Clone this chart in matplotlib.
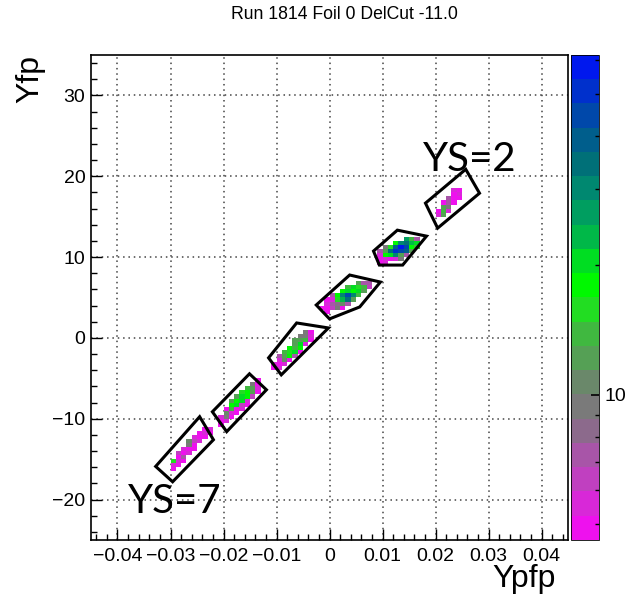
import numpy as np
import matplotlib
matplotlib.use("Agg")
import matplotlib.pyplot as plt
from matplotlib.colors import ListedColormap, LogNorm
from matplotlib.patches import Polygon
from matplotlib.ticker import MultipleLocator, FuncFormatter, NullFormatter, FixedLocator

plt.rcParams['font.family'] = ['Liberation Sans', 'DejaVu Sans']

# Histogram cells per sieve hole: (Ypfp bin centre, Yfp bin centre, counts)
cells_ys7 = [
    (-0.0295, -16.25, 5), (-0.0295, -15.75, 5.6), (-0.0295, -15.25, 15.7),
    (-0.0285, -15.75, 5), (-0.0285, -15.25, 5.6), (-0.0285, -14.75, 5), (-0.0285, -14.25, 6.3),
    (-0.0275, -15.25, 5), (-0.0275, -14.75, 7.2), (-0.0275, -14.25, 5), (-0.0275, -13.75, 5.6),
    (-0.0265, -14.25, 5.6), (-0.0265, -13.75, 5), (-0.0265, -13.25, 9.4), (-0.0265, -12.75, 10.7),
    (-0.0255, -13.75, 5), (-0.0255, -13.25, 5), (-0.0255, -12.75, 6.3), (-0.0255, -12.25, 5.6),
    (-0.0245, -12.75, 5.6), (-0.0245, -12.25, 5), (-0.0245, -11.75, 5),
    (-0.0235, -12.25, 5), (-0.0235, -11.75, 5.6), (-0.0235, -11.25, 5),
    (-0.0225, -11.75, 5), (-0.0225, -11.25, 5.6),
]
cells_ys6 = [
    (-0.0205, -10.75, 5), (-0.0205, -10.25, 5), (-0.0205, -9.75, 5.6),
    (-0.0195, -10.25, 5.6), (-0.0195, -9.75, 9.4), (-0.0195, -9.25, 10.7), (-0.0195, -8.75, 5),
    (-0.0185, -9.75, 5), (-0.0185, -9.25, 5.6), (-0.0185, -8.75, 13.8), (-0.0185, -8.25, 17.9),
    (-0.0185, -7.75, 12.2),
    (-0.0175, -9.25, 5), (-0.0175, -8.75, 5), (-0.0175, -8.25, 20.4), (-0.0175, -7.75, 17.9),
    (-0.0175, -7.25, 12.2),
    (-0.0165, -8.75, 5.6), (-0.0165, -8.25, 6.3), (-0.0165, -7.75, 20.4), (-0.0165, -7.25, 20.4),
    (-0.0165, -6.75, 15.7),
    (-0.0155, -8.25, 5), (-0.0155, -7.75, 5.6), (-0.0155, -7.25, 17.9), (-0.0155, -6.75, 17.9),
    (-0.0155, -6.25, 13.8),
    (-0.0145, -7.25, 6.3), (-0.0145, -6.75, 12.2), (-0.0145, -6.25, 12.2), (-0.0145, -5.75, 9.4),
    (-0.0135, -6.75, 5), (-0.0135, -6.25, 5.6), (-0.0135, -5.75, 5), (-0.0135, -5.25, 5),
]
cells_ys5 = [
    (-0.0105, -3.75, 5), (-0.0105, -3.25, 5.6),
    (-0.0095, -3.75, 5.6), (-0.0095, -3.25, 5), (-0.0095, -2.75, 5.6), (-0.0095, -2.25, 7.2),
    (-0.0085, -3.25, 5.6), (-0.0085, -2.75, 10.7), (-0.0085, -2.25, 12.2), (-0.0085, -1.75, 13.8),
    (-0.0075, -2.75, 5), (-0.0075, -2.25, 17.9), (-0.0075, -1.75, 15.7), (-0.0075, -1.25, 17.9),
    (-0.0065, -2.25, 7.2), (-0.0065, -1.75, 20.4), (-0.0065, -1.25, 13.8), (-0.0065, -0.75, 12.2),
    (-0.0065, -0.25, 12.2),
    (-0.0055, -1.75, 5), (-0.0055, -1.25, 17.9), (-0.0055, -0.75, 20.4), (-0.0055, -0.25, 12.2),
    (-0.0055, 0.25, 9.4),
    (-0.0045, -0.75, 5.6), (-0.0045, -0.25, 13.8), (-0.0045, 0.25, 9.4), (-0.0045, 0.75, 9.4),
    (-0.0035, -0.25, 5), (-0.0035, 0.25, 5.6), (-0.0035, 0.75, 5),
]
cells_ys4 = [
    (-0.0015, 3.75, 5),
    (-0.0005, 3.25, 5), (-0.0005, 3.75, 5), (-0.0005, 4.25, 5.6), (-0.0005, 4.75, 5),
    (0.0005, 3.75, 6.3), (0.0005, 4.25, 7.2), (0.0005, 4.75, 5.6), (0.0005, 5.25, 7.2),
    (0.0015, 3.75, 9.4), (0.0015, 4.25, 8.2), (0.0015, 4.75, 15.7), (0.0015, 5.25, 17.9),
    (0.0025, 3.75, 5), (0.0025, 4.25, 10.7), (0.0025, 4.75, 23.2), (0.0025, 5.25, 30.1),
    (0.0025, 5.75, 17.9),
    (0.0035, 4.25, 7.2), (0.0035, 4.75, 34.3), (0.0035, 5.25, 44.5), (0.0035, 5.75, 20.4),
    (0.0035, 6.25, 13.8),
    (0.0045, 4.75, 12.2), (0.0045, 5.25, 30.1), (0.0045, 5.75, 17.9), (0.0045, 6.25, 20.4),
    (0.0055, 5.25, 13.8), (0.0055, 5.75, 20.4), (0.0055, 6.25, 15.7), (0.0055, 6.75, 12.2),
    (0.0065, 5.75, 12.2), (0.0065, 6.25, 13.8), (0.0065, 6.75, 7.2),
    (0.0075, 6.25, 6.3), (0.0075, 6.75, 7.2),
]
cells_ys3 = [
    (0.0095, 9.25, 5), (0.0095, 9.75, 5), (0.0095, 10.25, 5.6), (0.0095, 10.75, 7.2),
    (0.0105, 9.25, 5.6), (0.0105, 9.75, 5.6), (0.0105, 10.25, 17.9), (0.0105, 10.75, 12.2),
    (0.0105, 11.25, 9.4),
    (0.0115, 9.75, 5), (0.0115, 10.25, 20.4), (0.0115, 10.75, 34.3), (0.0115, 11.25, 15.7),
    (0.0125, 9.75, 5.6), (0.0125, 10.25, 30.1), (0.0125, 10.75, 50.7), (0.0125, 11.25, 39.1),
    (0.0125, 11.75, 17.9),
    (0.0135, 9.75, 9.4), (0.0135, 10.25, 12.2), (0.0135, 10.75, 44.5), (0.0135, 11.25, 57.7),
    (0.0135, 11.75, 30.1),
    (0.0145, 10.25, 7.2), (0.0145, 10.75, 39.1), (0.0145, 11.25, 44.5), (0.0145, 11.75, 34.3),
    (0.0145, 12.25, 26.5),
    (0.0155, 10.75, 12.2), (0.0155, 11.25, 17.9), (0.0155, 11.75, 23.2), (0.0155, 12.25, 13.8),
    (0.0165, 11.25, 13.8), (0.0165, 11.75, 20.4), (0.0165, 12.25, 7.2),
]
cells_ys2 = [
    (0.0205, 15.25, 5.6), (0.0205, 15.75, 5),
    (0.0215, 15.25, 12.2), (0.0215, 15.75, 13.8), (0.0215, 16.25, 12.2), (0.0215, 16.75, 5),
    (0.0225, 15.75, 5.6), (0.0225, 16.25, 9.4), (0.0225, 16.75, 7.2), (0.0225, 17.25, 7.2),
    (0.0235, 16.75, 5), (0.0235, 17.25, 5), (0.0235, 17.75, 5), (0.0235, 18.25, 5.6),
    (0.0245, 17.25, 5), (0.0245, 17.75, 5.6), (0.0245, 18.25, 5),
]

# graphical cuts around each hole (Ypfp, Yfp)
cut_ys7 = [(-0.0245, -9.75), (-0.0219, -12.6), (-0.0296, -17.8), (-0.0328, -15.9)]
cut_ys6 = [(-0.0151, -4.44), (-0.0119, -6.42), (-0.0194, -11.6), (-0.0221, -9.14)]
cut_ys5 = [(-0.0062, 1.85), (-0.0002, 1.23), (-0.0091, -4.57), (-0.0115, -2.47)]
cut_ys4 = [(0.0038, 7.78), (0.0096, 6.91), (0.0057, 3.83), (0.0000, 2.35), (-0.0025, 4.07)]
cut_ys3 = [(0.0128, 13.33), (0.0183, 12.59), (0.0138, 9.01), (0.0094, 9.01), (0.0083, 10.74)]
cut_ys2 = [(0.0257, 20.86), (0.0283, 17.90), (0.0204, 13.58), (0.0181, 16.67)]

# palette, bottom (low) to top (high)
palette = ['#ee11ee', '#d828d8', '#c040c0', '#a855a8', '#8c6a8c', '#7a7a7a',
           '#6a886a', '#55a055', '#40b840', '#22dd22', '#00f800', '#00dd22',
           '#00b848', '#009e60', '#008870', '#007078', '#005e8c', '#0048aa',
           '#0030cc', '#0018ee']
cmap = ListedColormap(palette)
norm = LogNorm(vmin=4.6, vmax=61.6)

all_cells = np.array(cells_ys7 + cells_ys6 + cells_ys5 + cells_ys4 + cells_ys3 + cells_ys2)
xedges = np.linspace(-0.045, 0.045, 91)
yedges = np.linspace(-25, 35, 121)
H, _, _ = np.histogram2d(all_cells[:, 0], all_cells[:, 1], bins=[xedges, yedges],
                         weights=all_cells[:, 2])
H = np.ma.masked_where(H <= 0, H)

fig = plt.figure(figsize=(6.28, 5.97), dpi=100)
ax = fig.add_axes([0.1449, 0.0955, 0.7596, 0.8124])
cax = fig.add_axes([0.9092, 0.0955, 0.0446, 0.8124])

ax.set_axisbelow(True)
mesh = ax.pcolormesh(xedges, yedges, H.T, cmap=cmap, norm=norm, zorder=1)

for cut in [cut_ys7, cut_ys6, cut_ys5, cut_ys4, cut_ys3, cut_ys2]:
    ax.add_patch(Polygon(cut, closed=True, fill=False, edgecolor='black',
                         linewidth=2.2, joinstyle='miter', zorder=3))

ax.set_xlim(-0.045, 0.045)
ax.set_ylim(-25, 35)

ax.xaxis.set_major_locator(MultipleLocator(0.01))
ax.xaxis.set_minor_locator(MultipleLocator(0.002))
ax.yaxis.set_major_locator(MultipleLocator(10))
ax.yaxis.set_minor_locator(MultipleLocator(2))


def xfmt(v, pos):
    if abs(v) < 1e-9:
        return '0'
    return f'{v:.2f}'.replace('-', '\u2212')


def yfmt(v, pos):
    return f'{v:.0f}'.replace('-', '\u2212')


ax.xaxis.set_major_formatter(FuncFormatter(xfmt))
ax.yaxis.set_major_formatter(FuncFormatter(yfmt))
ax.tick_params(which='both', direction='in', top=False, right=False, labelsize=14)
ax.tick_params(which='major', length=8, width=1)
ax.tick_params(which='minor', length=4, width=1)
ax.tick_params(axis='x', pad=6)
ax.tick_params(axis='y', pad=4)
for s in ax.spines.values():
    s.set_linewidth(1.2)

ax.grid(True, which='major', color='#444444', linestyle=(0, (1, 2.5)), linewidth=1.1)

ax.text(0.01755, 20.6, 'YS=2', family='Lato', fontsize=29, ha='left', va='baseline', zorder=4)
ax.text(-0.0381, -21.7, 'YS=7', family='Lato', fontsize=29, ha='left', va='baseline', zorder=4)

fig.text(0.548, 0.9765, 'Run 1814 Foil 0 DelCut -11.0', fontsize=12.7, ha='center', va='center')
fig.text(0.885, 0.016, 'Ypfp', fontsize=23, ha='right', va='baseline')
fig.text(0.048, 0.908, 'Yfp', fontsize=23, rotation=90, ha='center', va='top')

# colour scale
cb = fig.colorbar(mesh, cax=cax)
cb.outline.set_linewidth(0.6)
cax.yaxis.set_major_locator(FixedLocator([10]))
cax.yaxis.set_minor_locator(FixedLocator([5, 6, 7, 8, 9, 20, 30, 40, 50, 60]))
cax.yaxis.set_major_formatter(FuncFormatter(lambda v, p: f'{v:g}'))
cax.yaxis.set_minor_formatter(NullFormatter())
cax.tick_params(which='both', direction='in', right=True, left=False, labelright=True,
                labelsize=14, pad=4)
cax.tick_params(which='major', length=6, width=1.2)
cax.tick_params(which='minor', length=3, width=1)

fig.savefig('out.png', dpi=100)
